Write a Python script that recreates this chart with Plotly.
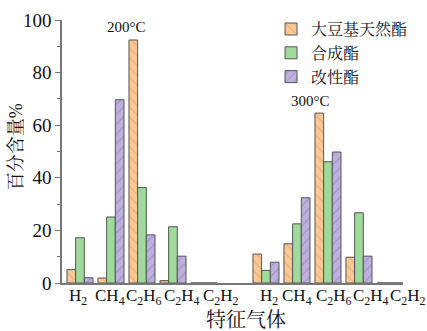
import plotly.graph_objects as go

gases = ["H<sub>2</sub>", "CH<sub>4</sub>", "C<sub>2</sub>H<sub>6</sub>", "C<sub>2</sub>H<sub>4</sub>", "C<sub>2</sub>H<sub>2</sub>"]
# positions: 200°C group at 0..4, 300°C group at 6..10
x_pos = [0, 1, 2, 3, 4, 6, 7, 8, 9, 10]
label_pos = [-0.05, 0.97, 2.08, 3.3, 4.55, 6.1, 7.0, 8.2, 9.4, 10.58]
labels = gases + gases

soy = [5.1, 1.9, 92.4, 0.9, 0, 11.0, 14.9, 64.6, 9.8, 0]
synth = [17.2, 25.1, 36.3, 21.4, 0, 4.8, 22.5, 46.1, 26.7, 0]
modified = [2.0, 69.7, 18.3, 10.2, 0, 7.9, 32.4, 49.8, 10.2, 0]

names = ["大豆基天然酯", "合成酯", "改性酯"]
series = [soy, synth, modified]
fills = ["#F9C895", "#9FD99B", "#BDB0DC"]
fgs = ["#D98A4A", "#9FD99B", "#7E6BA8"]
shapes = ["\\", "", "/"]

X_RANGE = [-0.58, 10.42]
FONT = "Liberation Serif, Times New Roman, Noto Serif CJK SC, Noto Sans CJK SC, serif"

fig = go.Figure()
for name, vals, fc, fg, sh in zip(names, series, fills, fgs, shapes):
    fig.add_trace(go.Bar(
        x=x_pos, y=vals, name=name,
        marker=dict(color=fc, line=dict(color="#555555", width=1),
                    pattern=dict(shape=sh, fgcolor=fg, size=7, solidity=0.15, bgcolor=fc)),
    ))

annotations = []
for lp, lab in zip(label_pos, labels):
    px = (lp - X_RANGE[0]) / (X_RANGE[1] - X_RANGE[0])
    annotations.append(dict(x=px, y=0, xref="paper", yref="paper", text=lab, showarrow=False,
                            yanchor="top", yshift=-1, font=dict(family=FONT, size=17, color="#111"),
                            xanchor="center"))
annotations.append(dict(x=1.5, y=97.5, xref="x", yref="y", text="200°C", showarrow=False,
                        font=dict(family=FONT, size=15, color="#111")))
annotations.append(dict(x=7.42, y=69.1, xref="x", yref="y", text="300°C", showarrow=False,
                        font=dict(family=FONT, size=15, color="#111")))
annotations.append(dict(x=0.54, y=-0.09, xref="paper", yref="paper", text="特征气体", showarrow=False,
                        yanchor="top", font=dict(family=FONT, size=20, color="#111")))
annotations.append(dict(x=-0.135, y=0.52, xref="paper", yref="paper", text="百分含量%", showarrow=False,
                        textangle=-90, xanchor="center", yanchor="middle",
                        font=dict(family=FONT, size=18, color="#111")))

fig.update_layout(
    width=427, height=331,
    margin=dict(l=62, r=24, t=18, b=48),
    paper_bgcolor="white", plot_bgcolor="white",
    barmode="group", bargap=0.16, bargroupgap=0,
    font=dict(family=FONT, color="#111"),
    showlegend=True,
    legend=dict(x=0.613, y=1.03, xanchor="left", yanchor="top",
                font=dict(family=FONT, size=16, color="#111"),
                bgcolor="rgba(0,0,0,0)", tracegroupgap=0),
    annotations=annotations,
    xaxis=dict(range=X_RANGE, showticklabels=False, ticks="",
               showline=True, linecolor="#777777", linewidth=1.5, showgrid=False, zeroline=False),
    yaxis=dict(range=[0, 100], tickvals=[0, 20, 40, 60, 80, 100], ticks="outside", ticklen=5,
               tickcolor="#777777", tickfont=dict(family=FONT, size=19, color="#111"),
               minor=dict(tickvals=[10, 30, 50, 70, 90], ticks="outside", ticklen=3, tickcolor="#777777"),
               showline=True, linecolor="#777777", linewidth=1.5, showgrid=False, zeroline=False,
               automargin=False),
)

fig.write_html("out.html", config={"displayModeBar": False},
               post_script="document.body.style.margin='0';document.body.style.overflow='hidden';")
